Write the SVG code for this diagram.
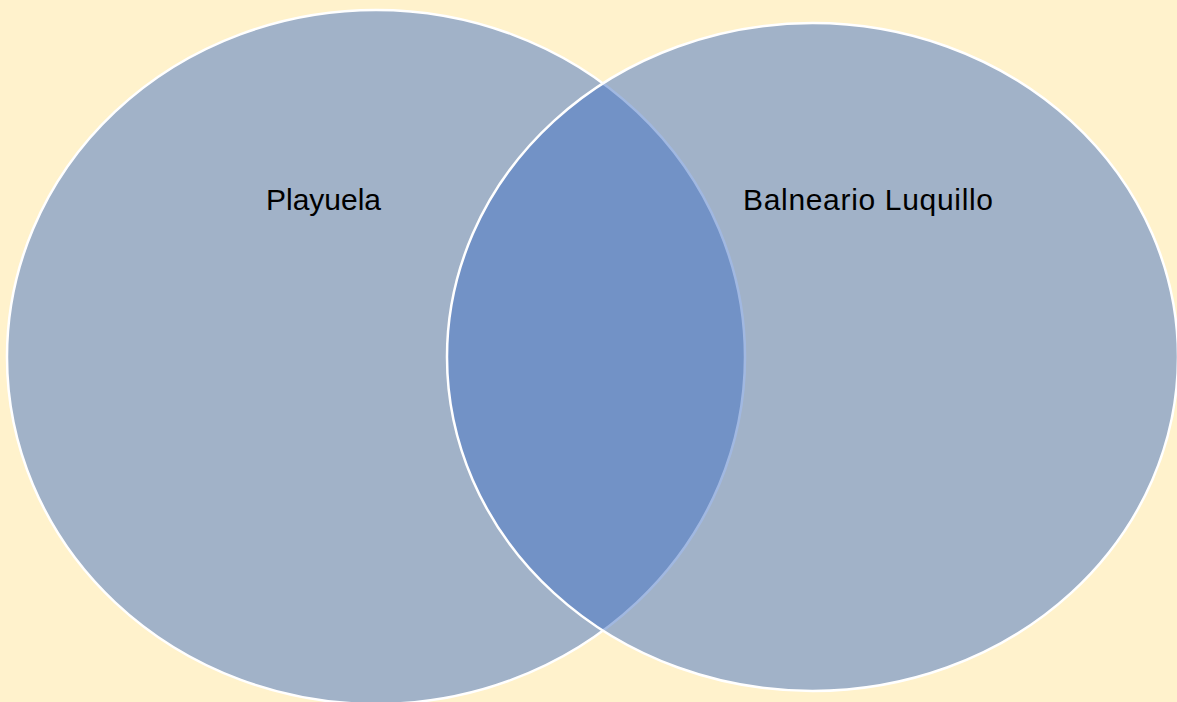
<svg xmlns="http://www.w3.org/2000/svg" width="1177" height="702" viewBox="0 0 1177 702">
<style>
.set{fill:#4472C4;fill-opacity:0.5;stroke:#FFFFFF;stroke-width:2.5}
.lbl{font-family:"Liberation Sans",Arial,sans-serif;font-size:30px;fill:#000000;text-anchor:middle}
</style>
<rect x="0" y="0" width="1177" height="702" fill="#FFF2CC"/>
<g id="playuela">
<ellipse class="set" cx="376" cy="357" rx="369" ry="347"/>
</g>
<g id="balneario-luquillo">
<ellipse class="set" cx="812.5" cy="357" rx="365.5" ry="334"/>
</g>
<g id="labels">
<text class="lbl" x="323.5" y="210" textLength="115" lengthAdjust="spacing">Playuela</text>
<text class="lbl" x="868" y="210" textLength="250" lengthAdjust="spacing">Balneario Luquillo</text>
</g>
<g id="connectors"></g>
</svg>
